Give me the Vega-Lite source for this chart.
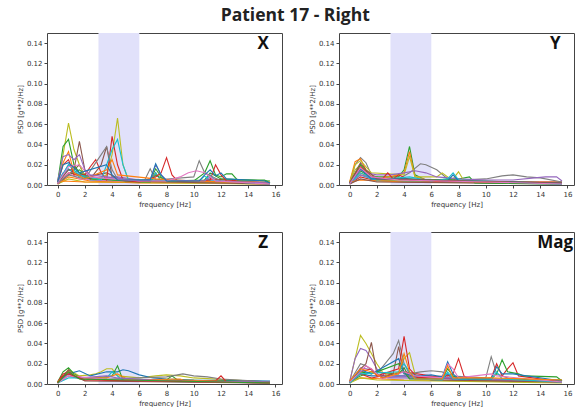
{
"$schema": "https://vega.github.io/schema/vega-lite/v6.json",
"padding": {"left": 15, "top": 6, "right": 2, "bottom": 0},
"title": {"text": "Patient 17 - Right", "font": "Open Sans", "fontWeight": "bold", "fontSize": 17.5, "color": "#222", "anchor": "middle", "frame": "bounds", "offset": 8.5},
"datasets": {"psd": [
{"p":"X","s":"x11","c":"C1","f":0,"v":0.001},{"p":"X","s":"x11","c":"C1","f":0.8,"v":0.008},{"p":"X","s":"x11","c":"C1","f":1.6,"v":0.006},{"p":"X","s":"x11","c":"C1","f":2.4,"v":0.004},{"p":"X","s":"x11","c":"C1","f":4,"v":0.003},{"p":"X","s":"x11","c":"C1","f":6,"v":0.002},{"p":"X","s":"x11","c":"C1","f":10,"v":0.002},{"p":"X","s":"x11","c":"C1","f":15.6,"v":0.001},
{"p":"X","s":"x12","c":"C0","f":0,"v":0.002},{"p":"X","s":"x12","c":"C0","f":0.4,"v":0.012},{"p":"X","s":"x12","c":"C0","f":0.8,"v":0.015},{"p":"X","s":"x12","c":"C0","f":1.6,"v":0.01},{"p":"X","s":"x12","c":"C0","f":2.4,"v":0.005},{"p":"X","s":"x12","c":"C0","f":4,"v":0.004},{"p":"X","s":"x12","c":"C0","f":7.2,"v":0.005},{"p":"X","s":"x12","c":"C0","f":12,"v":0.004},{"p":"X","s":"x12","c":"C0","f":15.6,"v":0.002},
{"p":"X","s":"x13","c":"C4","f":0,"v":0.002},{"p":"X","s":"x13","c":"C4","f":0.8,"v":0.02},{"p":"X","s":"x13","c":"C4","f":1.2,"v":0.018},{"p":"X","s":"x13","c":"C4","f":1.6,"v":0.012},{"p":"X","s":"x13","c":"C4","f":3,"v":0.006},{"p":"X","s":"x13","c":"C4","f":4.4,"v":0.008},{"p":"X","s":"x13","c":"C4","f":6,"v":0.005},{"p":"X","s":"x13","c":"C4","f":15.6,"v":0.002},
{"p":"X","s":"x14","c":"C3","f":0,"v":0.001},{"p":"X","s":"x14","c":"C3","f":0.8,"v":0.012},{"p":"X","s":"x14","c":"C3","f":1.6,"v":0.01},{"p":"X","s":"x14","c":"C3","f":3.6,"v":0.006},{"p":"X","s":"x14","c":"C3","f":6.8,"v":0.004},{"p":"X","s":"x14","c":"C3","f":7.2,"v":0.012},{"p":"X","s":"x14","c":"C3","f":7.6,"v":0.004},{"p":"X","s":"x14","c":"C3","f":10.8,"v":0.004},{"p":"X","s":"x14","c":"C3","f":11.2,"v":0.006},{"p":"X","s":"x14","c":"C3","f":15.6,"v":0.002},
{"p":"X","s":"x15","c":"C8","f":0,"v":0.001},{"p":"X","s":"x15","c":"C8","f":0.8,"v":0.006},{"p":"X","s":"x15","c":"C8","f":2,"v":0.003},{"p":"X","s":"x15","c":"C8","f":15.6,"v":0.001},
{"p":"X","s":"x16","c":"C2","f":0,"v":0.002},{"p":"X","s":"x16","c":"C2","f":0.8,"v":0.01},{"p":"X","s":"x16","c":"C2","f":1.6,"v":0.015},{"p":"X","s":"x16","c":"C2","f":2.4,"v":0.006},{"p":"X","s":"x16","c":"C2","f":4,"v":0.005},{"p":"X","s":"x16","c":"C2","f":6.8,"v":0.004},{"p":"X","s":"x16","c":"C2","f":7.2,"v":0.016},{"p":"X","s":"x16","c":"C2","f":7.6,"v":0.008},{"p":"X","s":"x16","c":"C2","f":8,"v":0.004},{"p":"X","s":"x16","c":"C2","f":10.8,"v":0.005},{"p":"X","s":"x16","c":"C2","f":11.2,"v":0.012},{"p":"X","s":"x16","c":"C2","f":12,"v":0.006},{"p":"X","s":"x16","c":"C2","f":15.6,"v":0.004},
{"p":"X","s":"x17","c":"C9","f":0,"v":0.002},{"p":"X","s":"x17","c":"C9","f":0.8,"v":0.016},{"p":"X","s":"x17","c":"C9","f":1.6,"v":0.008},{"p":"X","s":"x17","c":"C9","f":4,"v":0.006},{"p":"X","s":"x17","c":"C9","f":6.8,"v":0.004},{"p":"X","s":"x17","c":"C9","f":7.2,"v":0.012},{"p":"X","s":"x17","c":"C9","f":7.6,"v":0.004},{"p":"X","s":"x17","c":"C9","f":10.4,"v":0.004},{"p":"X","s":"x17","c":"C9","f":10.8,"v":0.009},{"p":"X","s":"x17","c":"C9","f":11.2,"v":0.004},{"p":"X","s":"x17","c":"C9","f":15.6,"v":0.002},
{"p":"X","s":"x18","c":"C5","f":0,"v":0.001},{"p":"X","s":"x18","c":"C5","f":0.8,"v":0.01},{"p":"X","s":"x18","c":"C5","f":1.6,"v":0.02},{"p":"X","s":"x18","c":"C5","f":2,"v":0.008},{"p":"X","s":"x18","c":"C5","f":3.6,"v":0.012},{"p":"X","s":"x18","c":"C5","f":5,"v":0.003},{"p":"X","s":"x18","c":"C5","f":15.6,"v":0.002},
{"p":"X","s":"x19","c":"C6","f":0,"v":0.001},{"p":"X","s":"x19","c":"C6","f":0.8,"v":0.012},{"p":"X","s":"x19","c":"C6","f":1.6,"v":0.006},{"p":"X","s":"x19","c":"C6","f":4,"v":0.004},{"p":"X","s":"x19","c":"C6","f":15.6,"v":0.001},
{"p":"X","s":"x20","c":"C1","f":0,"v":0.003},{"p":"X","s":"x20","c":"C1","f":0.4,"v":0.004},{"p":"X","s":"x20","c":"C1","f":2,"v":0.003},{"p":"X","s":"x20","c":"C1","f":8,"v":0.003},{"p":"X","s":"x20","c":"C1","f":15.6,"v":0.003},
{"p":"X","s":"x1","c":"C8","f":0,"v":0.002},{"p":"X","s":"x1","c":"C8","f":0.4,"v":0.03},{"p":"X","s":"x1","c":"C8","f":0.8,"v":0.061},{"p":"X","s":"x1","c":"C8","f":1.2,"v":0.035},{"p":"X","s":"x1","c":"C8","f":1.6,"v":0.02},{"p":"X","s":"x1","c":"C8","f":2,"v":0.008},{"p":"X","s":"x1","c":"C8","f":2.8,"v":0.005},{"p":"X","s":"x1","c":"C8","f":3.6,"v":0.01},{"p":"X","s":"x1","c":"C8","f":4,"v":0.03},{"p":"X","s":"x1","c":"C8","f":4.4,"v":0.066},{"p":"X","s":"x1","c":"C8","f":4.8,"v":0.02},{"p":"X","s":"x1","c":"C8","f":5.2,"v":0.005},{"p":"X","s":"x1","c":"C8","f":6,"v":0.003},{"p":"X","s":"x1","c":"C8","f":8,"v":0.003},{"p":"X","s":"x1","c":"C8","f":12,"v":0.002},{"p":"X","s":"x1","c":"C8","f":15.6,"v":0.001},
{"p":"X","s":"x2","c":"C2","f":0,"v":0.003},{"p":"X","s":"x2","c":"C2","f":0.4,"v":0.038},{"p":"X","s":"x2","c":"C2","f":0.8,"v":0.045},{"p":"X","s":"x2","c":"C2","f":1.2,"v":0.02},{"p":"X","s":"x2","c":"C2","f":1.6,"v":0.012},{"p":"X","s":"x2","c":"C2","f":2.4,"v":0.006},{"p":"X","s":"x2","c":"C2","f":4,"v":0.005},{"p":"X","s":"x2","c":"C2","f":6,"v":0.003},{"p":"X","s":"x2","c":"C2","f":6.8,"v":0.003},{"p":"X","s":"x2","c":"C2","f":7.2,"v":0.01},{"p":"X","s":"x2","c":"C2","f":8,"v":0.004},{"p":"X","s":"x2","c":"C2","f":10,"v":0.004},{"p":"X","s":"x2","c":"C2","f":10.8,"v":0.012},{"p":"X","s":"x2","c":"C2","f":11.2,"v":0.024},{"p":"X","s":"x2","c":"C2","f":11.6,"v":0.01},{"p":"X","s":"x2","c":"C2","f":12,"v":0.008},{"p":"X","s":"x2","c":"C2","f":12.4,"v":0.011},{"p":"X","s":"x2","c":"C2","f":12.8,"v":0.011},{"p":"X","s":"x2","c":"C2","f":13.2,"v":0.005},{"p":"X","s":"x2","c":"C2","f":15.2,"v":0.005},{"p":"X","s":"x2","c":"C2","f":15.6,"v":0.002},
{"p":"X","s":"x3","c":"C5","f":0,"v":0.002},{"p":"X","s":"x3","c":"C5","f":0.8,"v":0.015},{"p":"X","s":"x3","c":"C5","f":1.2,"v":0.015},{"p":"X","s":"x3","c":"C5","f":1.6,"v":0.043},{"p":"X","s":"x3","c":"C5","f":2,"v":0.015},{"p":"X","s":"x3","c":"C5","f":2.4,"v":0.006},{"p":"X","s":"x3","c":"C5","f":3.2,"v":0.02},{"p":"X","s":"x3","c":"C5","f":3.6,"v":0.038},{"p":"X","s":"x3","c":"C5","f":4,"v":0.008},{"p":"X","s":"x3","c":"C5","f":5,"v":0.004},{"p":"X","s":"x3","c":"C5","f":8,"v":0.003},{"p":"X","s":"x3","c":"C5","f":15.6,"v":0.001},
{"p":"X","s":"x4","c":"C3","f":0,"v":0.002},{"p":"X","s":"x4","c":"C3","f":0.4,"v":0.02},{"p":"X","s":"x4","c":"C3","f":0.8,"v":0.025},{"p":"X","s":"x4","c":"C3","f":1.2,"v":0.01},{"p":"X","s":"x4","c":"C3","f":2,"v":0.01},{"p":"X","s":"x4","c":"C3","f":2.4,"v":0.018},{"p":"X","s":"x4","c":"C3","f":2.8,"v":0.025},{"p":"X","s":"x4","c":"C3","f":3.2,"v":0.012},{"p":"X","s":"x4","c":"C3","f":3.6,"v":0.005},{"p":"X","s":"x4","c":"C3","f":4,"v":0.048},{"p":"X","s":"x4","c":"C3","f":4.4,"v":0.02},{"p":"X","s":"x4","c":"C3","f":4.8,"v":0.005},{"p":"X","s":"x4","c":"C3","f":6,"v":0.003},{"p":"X","s":"x4","c":"C3","f":7.2,"v":0.008},{"p":"X","s":"x4","c":"C3","f":7.6,"v":0.012},{"p":"X","s":"x4","c":"C3","f":8,"v":0.027},{"p":"X","s":"x4","c":"C3","f":8.4,"v":0.01},{"p":"X","s":"x4","c":"C3","f":8.8,"v":0.004},{"p":"X","s":"x4","c":"C3","f":10,"v":0.004},{"p":"X","s":"x4","c":"C3","f":11.2,"v":0.005},{"p":"X","s":"x4","c":"C3","f":11.6,"v":0.02},{"p":"X","s":"x4","c":"C3","f":12,"v":0.01},{"p":"X","s":"x4","c":"C3","f":12.4,"v":0.004},{"p":"X","s":"x4","c":"C3","f":15.6,"v":0.001},
{"p":"X","s":"x5","c":"C9","f":0,"v":0.002},{"p":"X","s":"x5","c":"C9","f":0.8,"v":0.02},{"p":"X","s":"x5","c":"C9","f":1.6,"v":0.01},{"p":"X","s":"x5","c":"C9","f":3.2,"v":0.005},{"p":"X","s":"x5","c":"C9","f":3.6,"v":0.02},{"p":"X","s":"x5","c":"C9","f":4,"v":0.035},{"p":"X","s":"x5","c":"C9","f":4.4,"v":0.045},{"p":"X","s":"x5","c":"C9","f":4.8,"v":0.02},{"p":"X","s":"x5","c":"C9","f":5.2,"v":0.005},{"p":"X","s":"x5","c":"C9","f":7.2,"v":0.005},{"p":"X","s":"x5","c":"C9","f":10.8,"v":0.004},{"p":"X","s":"x5","c":"C9","f":11.2,"v":0.01},{"p":"X","s":"x5","c":"C9","f":11.6,"v":0.004},{"p":"X","s":"x5","c":"C9","f":15.6,"v":0.001},
{"p":"X","s":"x6","c":"C7","f":0,"v":0.002},{"p":"X","s":"x6","c":"C7","f":0.8,"v":0.01},{"p":"X","s":"x6","c":"C7","f":2,"v":0.006},{"p":"X","s":"x6","c":"C7","f":3.2,"v":0.03},{"p":"X","s":"x6","c":"C7","f":3.6,"v":0.038},{"p":"X","s":"x6","c":"C7","f":4,"v":0.015},{"p":"X","s":"x6","c":"C7","f":4.4,"v":0.006},{"p":"X","s":"x6","c":"C7","f":6.4,"v":0.005},{"p":"X","s":"x6","c":"C7","f":6.8,"v":0.016},{"p":"X","s":"x6","c":"C7","f":7.2,"v":0.005},{"p":"X","s":"x6","c":"C7","f":10,"v":0.008},{"p":"X","s":"x6","c":"C7","f":10.4,"v":0.024},{"p":"X","s":"x6","c":"C7","f":10.8,"v":0.012},{"p":"X","s":"x6","c":"C7","f":12,"v":0.004},{"p":"X","s":"x6","c":"C7","f":15.6,"v":0.002},
{"p":"X","s":"x7","c":"C1","f":0,"v":0.003},{"p":"X","s":"x7","c":"C1","f":0.4,"v":0.022},{"p":"X","s":"x7","c":"C1","f":0.8,"v":0.033},{"p":"X","s":"x7","c":"C1","f":1.2,"v":0.012},{"p":"X","s":"x7","c":"C1","f":2,"v":0.006},{"p":"X","s":"x7","c":"C1","f":3.6,"v":0.015},{"p":"X","s":"x7","c":"C1","f":4,"v":0.025},{"p":"X","s":"x7","c":"C1","f":4.4,"v":0.01},{"p":"X","s":"x7","c":"C1","f":7.2,"v":0.006},{"p":"X","s":"x7","c":"C1","f":10,"v":0.004},{"p":"X","s":"x7","c":"C1","f":15.6,"v":0.002},
{"p":"X","s":"x8","c":"C4","f":0,"v":0.004},{"p":"X","s":"x8","c":"C4","f":0.4,"v":0.028},{"p":"X","s":"x8","c":"C4","f":0.8,"v":0.03},{"p":"X","s":"x8","c":"C4","f":1.2,"v":0.025},{"p":"X","s":"x8","c":"C4","f":1.6,"v":0.03},{"p":"X","s":"x8","c":"C4","f":2,"v":0.015},{"p":"X","s":"x8","c":"C4","f":2.4,"v":0.01},{"p":"X","s":"x8","c":"C4","f":3.6,"v":0.008},{"p":"X","s":"x8","c":"C4","f":6,"v":0.004},{"p":"X","s":"x8","c":"C4","f":6.8,"v":0.005},{"p":"X","s":"x8","c":"C4","f":7.2,"v":0.02},{"p":"X","s":"x8","c":"C4","f":7.6,"v":0.01},{"p":"X","s":"x8","c":"C4","f":8,"v":0.005},{"p":"X","s":"x8","c":"C4","f":10.8,"v":0.004},{"p":"X","s":"x8","c":"C4","f":11.2,"v":0.008},{"p":"X","s":"x8","c":"C4","f":11.6,"v":0.004},{"p":"X","s":"x8","c":"C4","f":15.6,"v":0.002},
{"p":"X","s":"x9","c":"C6","f":0,"v":0.002},{"p":"X","s":"x9","c":"C6","f":0.8,"v":0.018},{"p":"X","s":"x9","c":"C6","f":1.6,"v":0.02},{"p":"X","s":"x9","c":"C6","f":2.4,"v":0.008},{"p":"X","s":"x9","c":"C6","f":4,"v":0.006},{"p":"X","s":"x9","c":"C6","f":6,"v":0.004},{"p":"X","s":"x9","c":"C6","f":8,"v":0.004},{"p":"X","s":"x9","c":"C6","f":9,"v":0.008},{"p":"X","s":"x9","c":"C6","f":9.6,"v":0.012},{"p":"X","s":"x9","c":"C6","f":10.2,"v":0.014},{"p":"X","s":"x9","c":"C6","f":10.8,"v":0.012},{"p":"X","s":"x9","c":"C6","f":11.6,"v":0.004},{"p":"X","s":"x9","c":"C6","f":15.6,"v":0.001},
{"p":"X","s":"x10","c":"C0","f":0,"v":0.003},{"p":"X","s":"x10","c":"C0","f":0.4,"v":0.02},{"p":"X","s":"x10","c":"C0","f":0.8,"v":0.022},{"p":"X","s":"x10","c":"C0","f":1.6,"v":0.012},{"p":"X","s":"x10","c":"C0","f":3.6,"v":0.02},{"p":"X","s":"x10","c":"C0","f":4,"v":0.01},{"p":"X","s":"x10","c":"C0","f":4.4,"v":0.005},{"p":"X","s":"x10","c":"C0","f":6.8,"v":0.005},{"p":"X","s":"x10","c":"C0","f":7.2,"v":0.021},{"p":"X","s":"x10","c":"C0","f":7.6,"v":0.01},{"p":"X","s":"x10","c":"C0","f":8,"v":0.004},{"p":"X","s":"x10","c":"C0","f":10.4,"v":0.004},{"p":"X","s":"x10","c":"C0","f":10.8,"v":0.01},{"p":"X","s":"x10","c":"C0","f":11.2,"v":0.015},{"p":"X","s":"x10","c":"C0","f":11.6,"v":0.009},{"p":"X","s":"x10","c":"C0","f":12,"v":0.012},{"p":"X","s":"x10","c":"C0","f":12.4,"v":0.006},{"p":"X","s":"x10","c":"C0","f":15.2,"v":0.004},{"p":"X","s":"x10","c":"C0","f":15.6,"v":0.002},

{"p":"Y","s":"y11","c":"C1","f":0,"v":0.002},{"p":"Y","s":"y11","c":"C1","f":0.8,"v":0.012},{"p":"Y","s":"y11","c":"C1","f":1.6,"v":0.006},{"p":"Y","s":"y11","c":"C1","f":3,"v":0.004},{"p":"Y","s":"y11","c":"C1","f":8,"v":0.003},{"p":"Y","s":"y11","c":"C1","f":15.6,"v":0.003},
{"p":"Y","s":"y12","c":"C8","f":0,"v":0.002},{"p":"Y","s":"y12","c":"C8","f":0.4,"v":0.015},{"p":"Y","s":"y12","c":"C8","f":0.8,"v":0.02},{"p":"Y","s":"y12","c":"C8","f":1.2,"v":0.012},{"p":"Y","s":"y12","c":"C8","f":2,"v":0.005},{"p":"Y","s":"y12","c":"C8","f":6,"v":0.003},{"p":"Y","s":"y12","c":"C8","f":15.6,"v":0.002},
{"p":"Y","s":"y13","c":"C3","f":0,"v":0.001},{"p":"Y","s":"y13","c":"C3","f":0.8,"v":0.008},{"p":"Y","s":"y13","c":"C3","f":2,"v":0.004},{"p":"Y","s":"y13","c":"C3","f":6,"v":0.003},{"p":"Y","s":"y13","c":"C3","f":15.6,"v":0.002},
{"p":"Y","s":"y14","c":"C2","f":0,"v":0.002},{"p":"Y","s":"y14","c":"C2","f":0.8,"v":0.014},{"p":"Y","s":"y14","c":"C2","f":1.6,"v":0.007},{"p":"Y","s":"y14","c":"C2","f":4.4,"v":0.006},{"p":"Y","s":"y14","c":"C2","f":8,"v":0.003},{"p":"Y","s":"y14","c":"C2","f":15.6,"v":0.002},
{"p":"Y","s":"y15","c":"C9","f":0,"v":0.001},{"p":"Y","s":"y15","c":"C9","f":0.8,"v":0.01},{"p":"Y","s":"y15","c":"C9","f":2,"v":0.004},{"p":"Y","s":"y15","c":"C9","f":15.6,"v":0.001},
{"p":"Y","s":"y16","c":"C4","f":0,"v":0.002},{"p":"Y","s":"y16","c":"C4","f":0.8,"v":0.01},{"p":"Y","s":"y16","c":"C4","f":2,"v":0.006},{"p":"Y","s":"y16","c":"C4","f":8,"v":0.004},{"p":"Y","s":"y16","c":"C4","f":15.6,"v":0.003},
{"p":"Y","s":"y17","c":"C1","f":0,"v":0.003},{"p":"Y","s":"y17","c":"C1","f":0.8,"v":0.005},{"p":"Y","s":"y17","c":"C1","f":4,"v":0.003},{"p":"Y","s":"y17","c":"C1","f":15.6,"v":0.003},
{"p":"Y","s":"y18","c":"C5","f":0,"v":0.001},{"p":"Y","s":"y18","c":"C5","f":0.8,"v":0.006},{"p":"Y","s":"y18","c":"C5","f":2,"v":0.003},{"p":"Y","s":"y18","c":"C5","f":15.6,"v":0.001},
{"p":"Y","s":"y1","c":"C7","f":0,"v":0.002},{"p":"Y","s":"y1","c":"C7","f":0.4,"v":0.02},{"p":"Y","s":"y1","c":"C7","f":0.8,"v":0.027},{"p":"Y","s":"y1","c":"C7","f":1.2,"v":0.022},{"p":"Y","s":"y1","c":"C7","f":1.6,"v":0.01},{"p":"Y","s":"y1","c":"C7","f":2.4,"v":0.006},{"p":"Y","s":"y1","c":"C7","f":3.6,"v":0.006},{"p":"Y","s":"y1","c":"C7","f":4.4,"v":0.012},{"p":"Y","s":"y1","c":"C7","f":5.2,"v":0.021},{"p":"Y","s":"y1","c":"C7","f":5.6,"v":0.02},{"p":"Y","s":"y1","c":"C7","f":6.4,"v":0.015},{"p":"Y","s":"y1","c":"C7","f":7.2,"v":0.006},{"p":"Y","s":"y1","c":"C7","f":8,"v":0.005},{"p":"Y","s":"y1","c":"C7","f":10,"v":0.006},{"p":"Y","s":"y1","c":"C7","f":11.2,"v":0.009},{"p":"Y","s":"y1","c":"C7","f":12,"v":0.01},{"p":"Y","s":"y1","c":"C7","f":13,"v":0.008},{"p":"Y","s":"y1","c":"C7","f":14,"v":0.007},{"p":"Y","s":"y1","c":"C7","f":15.6,"v":0.003},
{"p":"Y","s":"y2","c":"C2","f":0,"v":0.002},{"p":"Y","s":"y2","c":"C2","f":0.8,"v":0.02},{"p":"Y","s":"y2","c":"C2","f":1.6,"v":0.008},{"p":"Y","s":"y2","c":"C2","f":3.6,"v":0.008},{"p":"Y","s":"y2","c":"C2","f":4,"v":0.015},{"p":"Y","s":"y2","c":"C2","f":4.4,"v":0.038},{"p":"Y","s":"y2","c":"C2","f":4.8,"v":0.01},{"p":"Y","s":"y2","c":"C2","f":5.6,"v":0.005},{"p":"Y","s":"y2","c":"C2","f":8,"v":0.006},{"p":"Y","s":"y2","c":"C2","f":8.8,"v":0.008},{"p":"Y","s":"y2","c":"C2","f":9.2,"v":0.002},{"p":"Y","s":"y2","c":"C2","f":15.6,"v":0.001},
{"p":"Y","s":"y3","c":"C1","f":0,"v":0.003},{"p":"Y","s":"y3","c":"C1","f":0.4,"v":0.023},{"p":"Y","s":"y3","c":"C1","f":0.8,"v":0.026},{"p":"Y","s":"y3","c":"C1","f":1.2,"v":0.015},{"p":"Y","s":"y3","c":"C1","f":2,"v":0.006},{"p":"Y","s":"y3","c":"C1","f":3.6,"v":0.01},{"p":"Y","s":"y3","c":"C1","f":4,"v":0.012},{"p":"Y","s":"y3","c":"C1","f":4.4,"v":0.033},{"p":"Y","s":"y3","c":"C1","f":4.8,"v":0.008},{"p":"Y","s":"y3","c":"C1","f":6,"v":0.004},{"p":"Y","s":"y3","c":"C1","f":10,"v":0.003},{"p":"Y","s":"y3","c":"C1","f":15.6,"v":0.002},
{"p":"Y","s":"y4","c":"C8","f":0,"v":0.002},{"p":"Y","s":"y4","c":"C8","f":0.4,"v":0.02},{"p":"Y","s":"y4","c":"C8","f":0.8,"v":0.024},{"p":"Y","s":"y4","c":"C8","f":1.6,"v":0.012},{"p":"Y","s":"y4","c":"C8","f":4,"v":0.01},{"p":"Y","s":"y4","c":"C8","f":4.4,"v":0.028},{"p":"Y","s":"y4","c":"C8","f":4.8,"v":0.008},{"p":"Y","s":"y4","c":"C8","f":6.4,"v":0.008},{"p":"Y","s":"y4","c":"C8","f":6.8,"v":0.012},{"p":"Y","s":"y4","c":"C8","f":7.2,"v":0.008},{"p":"Y","s":"y4","c":"C8","f":7.6,"v":0.006},{"p":"Y","s":"y4","c":"C8","f":8,"v":0.013},{"p":"Y","s":"y4","c":"C8","f":8.4,"v":0.004},{"p":"Y","s":"y4","c":"C8","f":15.6,"v":0.002},
{"p":"Y","s":"y5","c":"C4","f":0,"v":0.002},{"p":"Y","s":"y5","c":"C4","f":0.8,"v":0.015},{"p":"Y","s":"y5","c":"C4","f":1.2,"v":0.012},{"p":"Y","s":"y5","c":"C4","f":2,"v":0.01},{"p":"Y","s":"y5","c":"C4","f":3,"v":0.01},{"p":"Y","s":"y5","c":"C4","f":4,"v":0.012},{"p":"Y","s":"y5","c":"C4","f":4.8,"v":0.014},{"p":"Y","s":"y5","c":"C4","f":5.6,"v":0.012},{"p":"Y","s":"y5","c":"C4","f":6.4,"v":0.008},{"p":"Y","s":"y5","c":"C4","f":8,"v":0.006},{"p":"Y","s":"y5","c":"C4","f":10,"v":0.005},{"p":"Y","s":"y5","c":"C4","f":12,"v":0.005},{"p":"Y","s":"y5","c":"C4","f":13.6,"v":0.007},{"p":"Y","s":"y5","c":"C4","f":14.4,"v":0.008},{"p":"Y","s":"y5","c":"C4","f":15.2,"v":0.008},{"p":"Y","s":"y5","c":"C4","f":15.6,"v":0.004},
{"p":"Y","s":"y6","c":"C3","f":0,"v":0.002},{"p":"Y","s":"y6","c":"C3","f":0.8,"v":0.018},{"p":"Y","s":"y6","c":"C3","f":1.6,"v":0.008},{"p":"Y","s":"y6","c":"C3","f":2.4,"v":0.006},{"p":"Y","s":"y6","c":"C3","f":2.8,"v":0.012},{"p":"Y","s":"y6","c":"C3","f":3.2,"v":0.006},{"p":"Y","s":"y6","c":"C3","f":3.6,"v":0.01},{"p":"Y","s":"y6","c":"C3","f":4.4,"v":0.005},{"p":"Y","s":"y6","c":"C3","f":6,"v":0.004},{"p":"Y","s":"y6","c":"C3","f":15.6,"v":0.002},
{"p":"Y","s":"y7","c":"C9","f":0,"v":0.002},{"p":"Y","s":"y7","c":"C9","f":0.8,"v":0.012},{"p":"Y","s":"y7","c":"C9","f":2,"v":0.005},{"p":"Y","s":"y7","c":"C9","f":4.4,"v":0.008},{"p":"Y","s":"y7","c":"C9","f":6,"v":0.004},{"p":"Y","s":"y7","c":"C9","f":7.2,"v":0.006},{"p":"Y","s":"y7","c":"C9","f":7.6,"v":0.012},{"p":"Y","s":"y7","c":"C9","f":8,"v":0.005},{"p":"Y","s":"y7","c":"C9","f":15.6,"v":0.001},
{"p":"Y","s":"y8","c":"C0","f":0,"v":0.002},{"p":"Y","s":"y8","c":"C0","f":0.8,"v":0.016},{"p":"Y","s":"y8","c":"C0","f":1.6,"v":0.006},{"p":"Y","s":"y8","c":"C0","f":4,"v":0.006},{"p":"Y","s":"y8","c":"C0","f":7.2,"v":0.004},{"p":"Y","s":"y8","c":"C0","f":7.6,"v":0.01},{"p":"Y","s":"y8","c":"C0","f":8,"v":0.004},{"p":"Y","s":"y8","c":"C0","f":15.6,"v":0.002},
{"p":"Y","s":"y9","c":"C5","f":0,"v":0.002},{"p":"Y","s":"y9","c":"C5","f":0.8,"v":0.022},{"p":"Y","s":"y9","c":"C5","f":1.2,"v":0.015},{"p":"Y","s":"y9","c":"C5","f":2,"v":0.006},{"p":"Y","s":"y9","c":"C5","f":15.6,"v":0.002},
{"p":"Y","s":"y10","c":"C6","f":0,"v":0.001},{"p":"Y","s":"y10","c":"C6","f":0.8,"v":0.017},{"p":"Y","s":"y10","c":"C6","f":1.6,"v":0.008},{"p":"Y","s":"y10","c":"C6","f":3.6,"v":0.005},{"p":"Y","s":"y10","c":"C6","f":10,"v":0.003},{"p":"Y","s":"y10","c":"C6","f":15.6,"v":0.001},

{"p":"Z","s":"z1","c":"C8","f":0,"v":0.002},{"p":"Z","s":"z1","c":"C8","f":0.8,"v":0.014},{"p":"Z","s":"z1","c":"C8","f":1.6,"v":0.008},{"p":"Z","s":"z1","c":"C8","f":2.4,"v":0.009},{"p":"Z","s":"z1","c":"C8","f":2.8,"v":0.01},{"p":"Z","s":"z1","c":"C8","f":3.2,"v":0.012},{"p":"Z","s":"z1","c":"C8","f":3.6,"v":0.015},{"p":"Z","s":"z1","c":"C8","f":4,"v":0.015},{"p":"Z","s":"z1","c":"C8","f":4.4,"v":0.008},{"p":"Z","s":"z1","c":"C8","f":6,"v":0.006},{"p":"Z","s":"z1","c":"C8","f":7.2,"v":0.008},{"p":"Z","s":"z1","c":"C8","f":8,"v":0.009},{"p":"Z","s":"z1","c":"C8","f":9,"v":0.008},{"p":"Z","s":"z1","c":"C8","f":10,"v":0.006},{"p":"Z","s":"z1","c":"C8","f":15.6,"v":0.002},
{"p":"Z","s":"z2","c":"C0","f":0,"v":0.002},{"p":"Z","s":"z2","c":"C0","f":0.8,"v":0.01},{"p":"Z","s":"z2","c":"C0","f":1.6,"v":0.013},{"p":"Z","s":"z2","c":"C0","f":2.4,"v":0.008},{"p":"Z","s":"z2","c":"C0","f":3.6,"v":0.012},{"p":"Z","s":"z2","c":"C0","f":4.4,"v":0.012},{"p":"Z","s":"z2","c":"C0","f":4.8,"v":0.014},{"p":"Z","s":"z2","c":"C0","f":5.2,"v":0.013},{"p":"Z","s":"z2","c":"C0","f":6,"v":0.009},{"p":"Z","s":"z2","c":"C0","f":7,"v":0.006},{"p":"Z","s":"z2","c":"C0","f":8,"v":0.005},{"p":"Z","s":"z2","c":"C0","f":10,"v":0.004},{"p":"Z","s":"z2","c":"C0","f":15.6,"v":0.003},
{"p":"Z","s":"z3","c":"C2","f":0,"v":0.002},{"p":"Z","s":"z3","c":"C2","f":0.4,"v":0.012},{"p":"Z","s":"z3","c":"C2","f":0.8,"v":0.016},{"p":"Z","s":"z3","c":"C2","f":1.2,"v":0.01},{"p":"Z","s":"z3","c":"C2","f":2,"v":0.004},{"p":"Z","s":"z3","c":"C2","f":4,"v":0.008},{"p":"Z","s":"z3","c":"C2","f":4.4,"v":0.018},{"p":"Z","s":"z3","c":"C2","f":4.8,"v":0.004},{"p":"Z","s":"z3","c":"C2","f":8,"v":0.004},{"p":"Z","s":"z3","c":"C2","f":8.4,"v":0.008},{"p":"Z","s":"z3","c":"C2","f":8.8,"v":0.004},{"p":"Z","s":"z3","c":"C2","f":15.6,"v":0.002},
{"p":"Z","s":"z4","c":"C7","f":0,"v":0.001},{"p":"Z","s":"z4","c":"C7","f":0.8,"v":0.008},{"p":"Z","s":"z4","c":"C7","f":2,"v":0.004},{"p":"Z","s":"z4","c":"C7","f":6,"v":0.006},{"p":"Z","s":"z4","c":"C7","f":8,"v":0.007},{"p":"Z","s":"z4","c":"C7","f":9.2,"v":0.01},{"p":"Z","s":"z4","c":"C7","f":10,"v":0.008},{"p":"Z","s":"z4","c":"C7","f":11,"v":0.007},{"p":"Z","s":"z4","c":"C7","f":12,"v":0.005},{"p":"Z","s":"z4","c":"C7","f":15.6,"v":0.002},
{"p":"Z","s":"z5","c":"C3","f":0,"v":0.002},{"p":"Z","s":"z5","c":"C3","f":0.4,"v":0.01},{"p":"Z","s":"z5","c":"C3","f":0.8,"v":0.012},{"p":"Z","s":"z5","c":"C3","f":1.2,"v":0.008},{"p":"Z","s":"z5","c":"C3","f":2,"v":0.006},{"p":"Z","s":"z5","c":"C3","f":3.6,"v":0.004},{"p":"Z","s":"z5","c":"C3","f":11.6,"v":0.003},{"p":"Z","s":"z5","c":"C3","f":12,"v":0.008},{"p":"Z","s":"z5","c":"C3","f":12.4,"v":0.002},{"p":"Z","s":"z5","c":"C3","f":15.6,"v":0.001},
{"p":"Z","s":"z6","c":"C9","f":0,"v":0.001},{"p":"Z","s":"z6","c":"C9","f":0.8,"v":0.006},{"p":"Z","s":"z6","c":"C9","f":3.6,"v":0.006},{"p":"Z","s":"z6","c":"C9","f":4,"v":0.012},{"p":"Z","s":"z6","c":"C9","f":4.4,"v":0.008},{"p":"Z","s":"z6","c":"C9","f":4.8,"v":0.003},{"p":"Z","s":"z6","c":"C9","f":15.6,"v":0.001},
{"p":"Z","s":"z7","c":"C1","f":0,"v":0.002},{"p":"Z","s":"z7","c":"C1","f":0.8,"v":0.012},{"p":"Z","s":"z7","c":"C1","f":1.6,"v":0.006},{"p":"Z","s":"z7","c":"C1","f":3.6,"v":0.006},{"p":"Z","s":"z7","c":"C1","f":4.4,"v":0.01},{"p":"Z","s":"z7","c":"C1","f":5.2,"v":0.004},{"p":"Z","s":"z7","c":"C1","f":9,"v":0.005},{"p":"Z","s":"z7","c":"C1","f":9.2,"v":0.004},{"p":"Z","s":"z7","c":"C1","f":15.6,"v":0.001},
{"p":"Z","s":"z8","c":"C4","f":0,"v":0.001},{"p":"Z","s":"z8","c":"C4","f":0.8,"v":0.01},{"p":"Z","s":"z8","c":"C4","f":1.6,"v":0.006},{"p":"Z","s":"z8","c":"C4","f":3.6,"v":0.008},{"p":"Z","s":"z8","c":"C4","f":4.4,"v":0.006},{"p":"Z","s":"z8","c":"C4","f":8,"v":0.003},{"p":"Z","s":"z8","c":"C4","f":15.6,"v":0.002},
{"p":"Z","s":"z9","c":"C5","f":0,"v":0.001},{"p":"Z","s":"z9","c":"C5","f":0.8,"v":0.014},{"p":"Z","s":"z9","c":"C5","f":1.2,"v":0.008},{"p":"Z","s":"z9","c":"C5","f":2,"v":0.003},{"p":"Z","s":"z9","c":"C5","f":15.6,"v":0.001},
{"p":"Z","s":"z10","c":"C6","f":0,"v":0.001},{"p":"Z","s":"z10","c":"C6","f":0.8,"v":0.008},{"p":"Z","s":"z10","c":"C6","f":4,"v":0.004},{"p":"Z","s":"z10","c":"C6","f":15.6,"v":0.001},
{"p":"Z","s":"z11","c":"C3","f":0,"v":0.001},{"p":"Z","s":"z11","c":"C3","f":0.4,"v":0.008},{"p":"Z","s":"z11","c":"C3","f":0.8,"v":0.01},{"p":"Z","s":"z11","c":"C3","f":2,"v":0.004},{"p":"Z","s":"z11","c":"C3","f":15.6,"v":0.001},
{"p":"Z","s":"z12","c":"C2","f":0,"v":0.001},{"p":"Z","s":"z12","c":"C2","f":0.8,"v":0.012},{"p":"Z","s":"z12","c":"C2","f":1.6,"v":0.005},{"p":"Z","s":"z12","c":"C2","f":15.6,"v":0.001},

{"p":"Mag","s":"m11","c":"C0","f":0,"v":0.001},{"p":"Mag","s":"m11","c":"C0","f":0.8,"v":0.01},{"p":"Mag","s":"m11","c":"C0","f":1.6,"v":0.008},{"p":"Mag","s":"m11","c":"C0","f":4,"v":0.008},{"p":"Mag","s":"m11","c":"C0","f":6.8,"v":0.004},{"p":"Mag","s":"m11","c":"C0","f":7.2,"v":0.01},{"p":"Mag","s":"m11","c":"C0","f":7.6,"v":0.004},{"p":"Mag","s":"m11","c":"C0","f":15.6,"v":0.002},
{"p":"Mag","s":"m12","c":"C1","f":0,"v":0.003},{"p":"Mag","s":"m12","c":"C1","f":0.8,"v":0.006},{"p":"Mag","s":"m12","c":"C1","f":4,"v":0.004},{"p":"Mag","s":"m12","c":"C1","f":10,"v":0.003},{"p":"Mag","s":"m12","c":"C1","f":15.6,"v":0.003},
{"p":"Mag","s":"m13","c":"C2","f":0,"v":0.002},{"p":"Mag","s":"m13","c":"C2","f":0.8,"v":0.008},{"p":"Mag","s":"m13","c":"C2","f":1.6,"v":0.012},{"p":"Mag","s":"m13","c":"C2","f":3.6,"v":0.01},{"p":"Mag","s":"m13","c":"C2","f":4,"v":0.016},{"p":"Mag","s":"m13","c":"C2","f":4.4,"v":0.006},{"p":"Mag","s":"m13","c":"C2","f":15.6,"v":0.004},
{"p":"Mag","s":"m14","c":"C3","f":0,"v":0.001},{"p":"Mag","s":"m14","c":"C3","f":0.8,"v":0.01},{"p":"Mag","s":"m14","c":"C3","f":1.6,"v":0.006},{"p":"Mag","s":"m14","c":"C3","f":4,"v":0.012},{"p":"Mag","s":"m14","c":"C3","f":8,"v":0.004},{"p":"Mag","s":"m14","c":"C3","f":15.6,"v":0.002},
{"p":"Mag","s":"m15","c":"C4","f":0,"v":0.001},{"p":"Mag","s":"m15","c":"C4","f":0.8,"v":0.016},{"p":"Mag","s":"m15","c":"C4","f":1.6,"v":0.014},{"p":"Mag","s":"m15","c":"C4","f":2.4,"v":0.006},{"p":"Mag","s":"m15","c":"C4","f":4,"v":0.008},{"p":"Mag","s":"m15","c":"C4","f":15.6,"v":0.002},
{"p":"Mag","s":"m16","c":"C8","f":0,"v":0.001},{"p":"Mag","s":"m16","c":"C8","f":0.8,"v":0.006},{"p":"Mag","s":"m16","c":"C8","f":2,"v":0.004},{"p":"Mag","s":"m16","c":"C8","f":15.6,"v":0.001},
{"p":"Mag","s":"m1","c":"C8","f":0,"v":0.002},{"p":"Mag","s":"m1","c":"C8","f":0.4,"v":0.025},{"p":"Mag","s":"m1","c":"C8","f":0.8,"v":0.048},{"p":"Mag","s":"m1","c":"C8","f":1.2,"v":0.04},{"p":"Mag","s":"m1","c":"C8","f":1.6,"v":0.03},{"p":"Mag","s":"m1","c":"C8","f":2,"v":0.02},{"p":"Mag","s":"m1","c":"C8","f":2.4,"v":0.012},{"p":"Mag","s":"m1","c":"C8","f":2.8,"v":0.008},{"p":"Mag","s":"m1","c":"C8","f":3.6,"v":0.012},{"p":"Mag","s":"m1","c":"C8","f":4,"v":0.025},{"p":"Mag","s":"m1","c":"C8","f":4.4,"v":0.031},{"p":"Mag","s":"m1","c":"C8","f":4.8,"v":0.01},{"p":"Mag","s":"m1","c":"C8","f":5.2,"v":0.005},{"p":"Mag","s":"m1","c":"C8","f":6,"v":0.004},{"p":"Mag","s":"m1","c":"C8","f":15.6,"v":0.002},
{"p":"Mag","s":"m2","c":"C4","f":0,"v":0.002},{"p":"Mag","s":"m2","c":"C4","f":0.4,"v":0.025},{"p":"Mag","s":"m2","c":"C4","f":0.8,"v":0.035},{"p":"Mag","s":"m2","c":"C4","f":1.2,"v":0.033},{"p":"Mag","s":"m2","c":"C4","f":1.6,"v":0.025},{"p":"Mag","s":"m2","c":"C4","f":2,"v":0.015},{"p":"Mag","s":"m2","c":"C4","f":2.8,"v":0.006},{"p":"Mag","s":"m2","c":"C4","f":4,"v":0.006},{"p":"Mag","s":"m2","c":"C4","f":15.6,"v":0.002},
{"p":"Mag","s":"m3","c":"C5","f":0,"v":0.002},{"p":"Mag","s":"m3","c":"C5","f":0.8,"v":0.015},{"p":"Mag","s":"m3","c":"C5","f":1.2,"v":0.02},{"p":"Mag","s":"m3","c":"C5","f":1.6,"v":0.041},{"p":"Mag","s":"m3","c":"C5","f":2,"v":0.01},{"p":"Mag","s":"m3","c":"C5","f":2.4,"v":0.006},{"p":"Mag","s":"m3","c":"C5","f":3.2,"v":0.01},{"p":"Mag","s":"m3","c":"C5","f":3.6,"v":0.037},{"p":"Mag","s":"m3","c":"C5","f":4,"v":0.01},{"p":"Mag","s":"m3","c":"C5","f":6,"v":0.004},{"p":"Mag","s":"m3","c":"C5","f":15.6,"v":0.002},
{"p":"Mag","s":"m4","c":"C7","f":0,"v":0.002},{"p":"Mag","s":"m4","c":"C7","f":0.8,"v":0.02},{"p":"Mag","s":"m4","c":"C7","f":1.2,"v":0.018},{"p":"Mag","s":"m4","c":"C7","f":2,"v":0.01},{"p":"Mag","s":"m4","c":"C7","f":3.2,"v":0.03},{"p":"Mag","s":"m4","c":"C7","f":3.6,"v":0.043},{"p":"Mag","s":"m4","c":"C7","f":4,"v":0.02},{"p":"Mag","s":"m4","c":"C7","f":4.4,"v":0.01},{"p":"Mag","s":"m4","c":"C7","f":5.2,"v":0.012},{"p":"Mag","s":"m4","c":"C7","f":6,"v":0.013},{"p":"Mag","s":"m4","c":"C7","f":6.8,"v":0.012},{"p":"Mag","s":"m4","c":"C7","f":7.2,"v":0.008},{"p":"Mag","s":"m4","c":"C7","f":10,"v":0.006},{"p":"Mag","s":"m4","c":"C7","f":10.4,"v":0.027},{"p":"Mag","s":"m4","c":"C7","f":10.8,"v":0.01},{"p":"Mag","s":"m4","c":"C7","f":12,"v":0.004},{"p":"Mag","s":"m4","c":"C7","f":15.6,"v":0.002},
{"p":"Mag","s":"m5","c":"C3","f":0,"v":0.002},{"p":"Mag","s":"m5","c":"C3","f":0.8,"v":0.012},{"p":"Mag","s":"m5","c":"C3","f":1.6,"v":0.015},{"p":"Mag","s":"m5","c":"C3","f":2,"v":0.008},{"p":"Mag","s":"m5","c":"C3","f":3.6,"v":0.015},{"p":"Mag","s":"m5","c":"C3","f":4,"v":0.047},{"p":"Mag","s":"m5","c":"C3","f":4.4,"v":0.015},{"p":"Mag","s":"m5","c":"C3","f":5,"v":0.006},{"p":"Mag","s":"m5","c":"C3","f":7.2,"v":0.008},{"p":"Mag","s":"m5","c":"C3","f":7.6,"v":0.01},{"p":"Mag","s":"m5","c":"C3","f":8,"v":0.025},{"p":"Mag","s":"m5","c":"C3","f":8.4,"v":0.008},{"p":"Mag","s":"m5","c":"C3","f":8.8,"v":0.004},{"p":"Mag","s":"m5","c":"C3","f":10.4,"v":0.006},{"p":"Mag","s":"m5","c":"C3","f":10.8,"v":0.02},{"p":"Mag","s":"m5","c":"C3","f":11.2,"v":0.008},{"p":"Mag","s":"m5","c":"C3","f":11.6,"v":0.015},{"p":"Mag","s":"m5","c":"C3","f":12,"v":0.021},{"p":"Mag","s":"m5","c":"C3","f":12.4,"v":0.008},{"p":"Mag","s":"m5","c":"C3","f":15.6,"v":0.002},
{"p":"Mag","s":"m6","c":"C2","f":0,"v":0.002},{"p":"Mag","s":"m6","c":"C2","f":0.8,"v":0.012},{"p":"Mag","s":"m6","c":"C2","f":1.6,"v":0.01},{"p":"Mag","s":"m6","c":"C2","f":3.6,"v":0.02},{"p":"Mag","s":"m6","c":"C2","f":4,"v":0.012},{"p":"Mag","s":"m6","c":"C2","f":4.4,"v":0.005},{"p":"Mag","s":"m6","c":"C2","f":6.8,"v":0.005},{"p":"Mag","s":"m6","c":"C2","f":7.2,"v":0.015},{"p":"Mag","s":"m6","c":"C2","f":7.6,"v":0.008},{"p":"Mag","s":"m6","c":"C2","f":8,"v":0.005},{"p":"Mag","s":"m6","c":"C2","f":10.4,"v":0.005},{"p":"Mag","s":"m6","c":"C2","f":10.8,"v":0.01},{"p":"Mag","s":"m6","c":"C2","f":11.2,"v":0.024},{"p":"Mag","s":"m6","c":"C2","f":11.6,"v":0.012},{"p":"Mag","s":"m6","c":"C2","f":12.4,"v":0.01},{"p":"Mag","s":"m6","c":"C2","f":12.8,"v":0.008},{"p":"Mag","s":"m6","c":"C2","f":15.2,"v":0.007},{"p":"Mag","s":"m6","c":"C2","f":15.6,"v":0.003},
{"p":"Mag","s":"m7","c":"C0","f":0,"v":0.002},{"p":"Mag","s":"m7","c":"C0","f":0.8,"v":0.014},{"p":"Mag","s":"m7","c":"C0","f":1.6,"v":0.01},{"p":"Mag","s":"m7","c":"C0","f":3.6,"v":0.025},{"p":"Mag","s":"m7","c":"C0","f":4,"v":0.01},{"p":"Mag","s":"m7","c":"C0","f":5.2,"v":0.008},{"p":"Mag","s":"m7","c":"C0","f":6,"v":0.009},{"p":"Mag","s":"m7","c":"C0","f":6.8,"v":0.007},{"p":"Mag","s":"m7","c":"C0","f":7.2,"v":0.022},{"p":"Mag","s":"m7","c":"C0","f":7.6,"v":0.01},{"p":"Mag","s":"m7","c":"C0","f":8,"v":0.005},{"p":"Mag","s":"m7","c":"C0","f":10.4,"v":0.005},{"p":"Mag","s":"m7","c":"C0","f":10.8,"v":0.017},{"p":"Mag","s":"m7","c":"C0","f":11.2,"v":0.01},{"p":"Mag","s":"m7","c":"C0","f":12,"v":0.01},{"p":"Mag","s":"m7","c":"C0","f":15.6,"v":0.003},
{"p":"Mag","s":"m8","c":"C9","f":0,"v":0.001},{"p":"Mag","s":"m8","c":"C9","f":0.8,"v":0.01},{"p":"Mag","s":"m8","c":"C9","f":3.6,"v":0.012},{"p":"Mag","s":"m8","c":"C9","f":4,"v":0.02},{"p":"Mag","s":"m8","c":"C9","f":4.4,"v":0.012},{"p":"Mag","s":"m8","c":"C9","f":4.8,"v":0.005},{"p":"Mag","s":"m8","c":"C9","f":6.8,"v":0.004},{"p":"Mag","s":"m8","c":"C9","f":7.2,"v":0.012},{"p":"Mag","s":"m8","c":"C9","f":7.6,"v":0.005},{"p":"Mag","s":"m8","c":"C9","f":10.4,"v":0.005},{"p":"Mag","s":"m8","c":"C9","f":10.8,"v":0.012},{"p":"Mag","s":"m8","c":"C9","f":11.2,"v":0.005},{"p":"Mag","s":"m8","c":"C9","f":15.6,"v":0.002},
{"p":"Mag","s":"m9","c":"C6","f":0,"v":0.002},{"p":"Mag","s":"m9","c":"C6","f":0.8,"v":0.012},{"p":"Mag","s":"m9","c":"C6","f":1.2,"v":0.018},{"p":"Mag","s":"m9","c":"C6","f":1.6,"v":0.015},{"p":"Mag","s":"m9","c":"C6","f":2.4,"v":0.005},{"p":"Mag","s":"m9","c":"C6","f":4,"v":0.012},{"p":"Mag","s":"m9","c":"C6","f":4.8,"v":0.008},{"p":"Mag","s":"m9","c":"C6","f":6.8,"v":0.006},{"p":"Mag","s":"m9","c":"C6","f":7.2,"v":0.02},{"p":"Mag","s":"m9","c":"C6","f":7.6,"v":0.015},{"p":"Mag","s":"m9","c":"C6","f":8,"v":0.006},{"p":"Mag","s":"m9","c":"C6","f":10.4,"v":0.01},{"p":"Mag","s":"m9","c":"C6","f":10.8,"v":0.008},{"p":"Mag","s":"m9","c":"C6","f":15.6,"v":0.002},
{"p":"Mag","s":"m10","c":"C1","f":0,"v":0.003},{"p":"Mag","s":"m10","c":"C1","f":0.8,"v":0.015},{"p":"Mag","s":"m10","c":"C1","f":1.6,"v":0.012},{"p":"Mag","s":"m10","c":"C1","f":2.4,"v":0.006},{"p":"Mag","s":"m10","c":"C1","f":3.6,"v":0.01},{"p":"Mag","s":"m10","c":"C1","f":4,"v":0.03},{"p":"Mag","s":"m10","c":"C1","f":4.4,"v":0.012},{"p":"Mag","s":"m10","c":"C1","f":4.8,"v":0.005},{"p":"Mag","s":"m10","c":"C1","f":6.8,"v":0.005},{"p":"Mag","s":"m10","c":"C1","f":7.2,"v":0.018},{"p":"Mag","s":"m10","c":"C1","f":7.6,"v":0.006},{"p":"Mag","s":"m10","c":"C1","f":10.4,"v":0.006},{"p":"Mag","s":"m10","c":"C1","f":15.6,"v":0.004}
]},
"columns": 2,
"spacing": {"row": 23, "column": 24},
"concat": [
{"width": 235, "height": 152, "layer": [
 {"data": {"values": [{"a": 3, "b": 6}]}, "mark": {"type": "rect", "color": "#e1e1fa"}, "encoding": {"x": {"field": "a", "type": "quantitative", "scale": {"domain": [-0.78, 16.48], "nice": false, "zero": false}, "axis": {"values": [0,2,4,6,8,10,12,14,16], "title": "frequency [Hz]"}}, "x2": {"field": "b"}}},
 {"data": {"name": "psd"}, "transform": [{"filter": "datum.p == 'X'"}], "mark": {"type": "line", "strokeWidth": 1.1, "clip": true}, "encoding": {"x": {"field": "f", "type": "quantitative", "axis": {"values": [0,2,4,6,8,10,12,14,16], "title": "frequency [Hz]"}}, "y": {"field": "v", "type": "quantitative", "scale": {"domain": [0, 0.15], "nice": false}, "axis": {"values": [0,0.02,0.04,0.06,0.08,0.1,0.12,0.14], "format": ".2f", "title": "PSD [g**2/Hz]"}}, "color": {"field": "c", "type": "nominal", "legend": null, "scale": {"domain": ["C0","C1","C2","C3","C4","C5","C6","C7","C8","C9"], "range": ["#1f77b4","#ff7f0e","#2ca02c","#d62728","#9467bd","#8c564b","#e377c2","#7f7f7f","#bcbd22","#17becf"]}}, "detail": {"field": "s"}, "order": {"field": "f", "type": "quantitative"}}},
 {"data": {"values": [{"t": "X"}]}, "mark": {"type": "text", "align": "center", "baseline": "top", "font": "Open Sans", "fontWeight": "bold", "fontSize": 17, "color": "#111"}, "encoding": {"text": {"field": "t"}, "x": {"datum": 15.1, "type": "quantitative", "axis": {"values": [0,2,4,6,8,10,12,14,16], "title": "frequency [Hz]"}}, "y": {"datum": 0.147, "type": "quantitative", "axis": {"values": [0,0.02,0.04,0.06,0.08,0.1,0.12,0.14], "format": ".2f", "title": "PSD [g**2/Hz]"}}}}
]},
{"width": 235, "height": 152, "layer": [
 {"data": {"values": [{"a": 3, "b": 6}]}, "mark": {"type": "rect", "color": "#e1e1fa"}, "encoding": {"x": {"field": "a", "type": "quantitative", "scale": {"domain": [-0.78, 16.48], "nice": false, "zero": false}, "axis": {"values": [0,2,4,6,8,10,12,14,16], "title": "frequency [Hz]"}}, "x2": {"field": "b"}}},
 {"data": {"name": "psd"}, "transform": [{"filter": "datum.p == 'Y'"}], "mark": {"type": "line", "strokeWidth": 1.1, "clip": true}, "encoding": {"x": {"field": "f", "type": "quantitative", "axis": {"values": [0,2,4,6,8,10,12,14,16], "title": "frequency [Hz]"}}, "y": {"field": "v", "type": "quantitative", "scale": {"domain": [0, 0.15], "nice": false}, "axis": {"values": [0,0.02,0.04,0.06,0.08,0.1,0.12,0.14], "format": ".2f", "title": "PSD [g**2/Hz]"}}, "color": {"field": "c", "type": "nominal", "legend": null, "scale": {"domain": ["C0","C1","C2","C3","C4","C5","C6","C7","C8","C9"], "range": ["#1f77b4","#ff7f0e","#2ca02c","#d62728","#9467bd","#8c564b","#e377c2","#7f7f7f","#bcbd22","#17becf"]}}, "detail": {"field": "s"}, "order": {"field": "f", "type": "quantitative"}}},
 {"data": {"values": [{"t": "Y"}]}, "mark": {"type": "text", "align": "center", "baseline": "top", "font": "Open Sans", "fontWeight": "bold", "fontSize": 17, "color": "#111"}, "encoding": {"text": {"field": "t"}, "x": {"datum": 15.1, "type": "quantitative", "axis": {"values": [0,2,4,6,8,10,12,14,16], "title": "frequency [Hz]"}}, "y": {"datum": 0.147, "type": "quantitative", "axis": {"values": [0,0.02,0.04,0.06,0.08,0.1,0.12,0.14], "format": ".2f", "title": "PSD [g**2/Hz]"}}}}
]},
{"width": 235, "height": 152, "layer": [
 {"data": {"values": [{"a": 3, "b": 6}]}, "mark": {"type": "rect", "color": "#e1e1fa"}, "encoding": {"x": {"field": "a", "type": "quantitative", "scale": {"domain": [-0.78, 16.48], "nice": false, "zero": false}, "axis": {"values": [0,2,4,6,8,10,12,14,16], "title": "frequency [Hz]"}}, "x2": {"field": "b"}}},
 {"data": {"name": "psd"}, "transform": [{"filter": "datum.p == 'Z'"}], "mark": {"type": "line", "strokeWidth": 1.1, "clip": true}, "encoding": {"x": {"field": "f", "type": "quantitative", "axis": {"values": [0,2,4,6,8,10,12,14,16], "title": "frequency [Hz]"}}, "y": {"field": "v", "type": "quantitative", "scale": {"domain": [0, 0.15], "nice": false}, "axis": {"values": [0,0.02,0.04,0.06,0.08,0.1,0.12,0.14], "format": ".2f", "title": "PSD [g**2/Hz]"}}, "color": {"field": "c", "type": "nominal", "legend": null, "scale": {"domain": ["C0","C1","C2","C3","C4","C5","C6","C7","C8","C9"], "range": ["#1f77b4","#ff7f0e","#2ca02c","#d62728","#9467bd","#8c564b","#e377c2","#7f7f7f","#bcbd22","#17becf"]}}, "detail": {"field": "s"}, "order": {"field": "f", "type": "quantitative"}}},
 {"data": {"values": [{"t": "Z"}]}, "mark": {"type": "text", "align": "center", "baseline": "top", "font": "Open Sans", "fontWeight": "bold", "fontSize": 17, "color": "#111"}, "encoding": {"text": {"field": "t"}, "x": {"datum": 15.1, "type": "quantitative", "axis": {"values": [0,2,4,6,8,10,12,14,16], "title": "frequency [Hz]"}}, "y": {"datum": 0.147, "type": "quantitative", "axis": {"values": [0,0.02,0.04,0.06,0.08,0.1,0.12,0.14], "format": ".2f", "title": "PSD [g**2/Hz]"}}}}
]},
{"width": 235, "height": 152, "layer": [
 {"data": {"values": [{"a": 3, "b": 6}]}, "mark": {"type": "rect", "color": "#e1e1fa"}, "encoding": {"x": {"field": "a", "type": "quantitative", "scale": {"domain": [-0.78, 16.48], "nice": false, "zero": false}, "axis": {"values": [0,2,4,6,8,10,12,14,16], "title": "frequency [Hz]"}}, "x2": {"field": "b"}}},
 {"data": {"name": "psd"}, "transform": [{"filter": "datum.p == 'Mag'"}], "mark": {"type": "line", "strokeWidth": 1.1, "clip": true}, "encoding": {"x": {"field": "f", "type": "quantitative", "axis": {"values": [0,2,4,6,8,10,12,14,16], "title": "frequency [Hz]"}}, "y": {"field": "v", "type": "quantitative", "scale": {"domain": [0, 0.15], "nice": false}, "axis": {"values": [0,0.02,0.04,0.06,0.08,0.1,0.12,0.14], "format": ".2f", "title": "PSD [g**2/Hz]"}}, "color": {"field": "c", "type": "nominal", "legend": null, "scale": {"domain": ["C0","C1","C2","C3","C4","C5","C6","C7","C8","C9"], "range": ["#1f77b4","#ff7f0e","#2ca02c","#d62728","#9467bd","#8c564b","#e377c2","#7f7f7f","#bcbd22","#17becf"]}}, "detail": {"field": "s"}, "order": {"field": "f", "type": "quantitative"}}},
 {"data": {"values": [{"t": "Mag"}]}, "mark": {"type": "text", "align": "center", "baseline": "top", "font": "Open Sans", "fontWeight": "bold", "fontSize": 17, "color": "#111"}, "encoding": {"text": {"field": "t"}, "x": {"datum": 15.1, "type": "quantitative", "axis": {"values": [0,2,4,6,8,10,12,14,16], "title": "frequency [Hz]"}}, "y": {"datum": 0.147, "type": "quantitative", "axis": {"values": [0,0.02,0.04,0.06,0.08,0.1,0.12,0.14], "format": ".2f", "title": "PSD [g**2/Hz]"}}}}
]}
],
"config": {
 "font": "DejaVu Sans",
 "view": {"stroke": "#444", "strokeWidth": 1},
 "axis": {"labelFont": "DejaVu Sans", "labelFontSize": 7, "labelColor": "#333", "titleFont": "DejaVu Sans", "titleFontSize": 7, "titleFontWeight": "normal", "titleColor": "#333", "tickColor": "#444", "tickSize": 3, "grid": false, "domain": false, "labelPadding": 2, "titlePadding": 3, "labelOverlap": false, "minExtent": 0}
}
}
